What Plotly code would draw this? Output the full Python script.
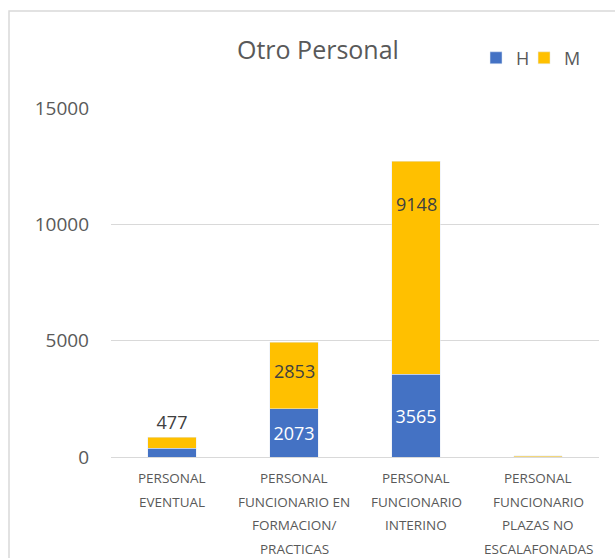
import plotly.graph_objects as go

categories = [
    "PERSONAL EVENTUAL",
    "PERSONAL FUNCIONARIO EN FORMACION/ PRACTICAS",
    "PERSONAL FUNCIONARIO INTERINO",
    "PERSONAL FUNCIONARIO PLAZAS NO ESCALAFONADAS",
]
category_lines = [
    ["PERSONAL", "EVENTUAL"],
    ["PERSONAL", "FUNCIONARIO EN", "FORMACION/", "PRACTICAS"],
    ["PERSONAL", "FUNCIONARIO", "INTERINO"],
    ["PERSONAL", "FUNCIONARIO", "PLAZAS NO", "ESCALAFONADAS"],
]
h_values = [370, 2073, 3565, 10]
m_values = [477, 2853, 9148, 40]
h_labels = ["", "2073", "3565", ""]
m_labels = ["477", "2853", "9148", ""]
# where each M label sits inside its segment (fraction of the segment), None = above bar
m_label_frac = [None, 0.57, 0.80, None]
y_ticks = [0, 5000, 10000, 15000]

FONT = "Open Sans, Liberation Sans, sans-serif"
GRAY = "#595959"

fig = go.Figure()
fig.add_trace(go.Bar(
    name="H", x=categories, y=h_values, marker_color="#4472C4",
    text=h_labels, textposition="inside", insidetextanchor="middle",
    textfont=dict(color="white", size=18, family=FONT),
    hoverinfo="x+y", legend="legend",
))
fig.add_trace(go.Bar(
    name="M", x=categories, y=m_values, marker_color="#FFC000",
    text=[t if f is None else "" for t, f in zip(m_labels, m_label_frac)],
    textposition="outside",
    textfont=dict(color="#404040", size=18, family=FONT),
    hoverinfo="x+y", cliponaxis=False, legend="legend2",
))
for cat, h, m, t, f in zip(categories, h_values, m_values, m_labels, m_label_frac):
    if f is not None and t:
        fig.add_annotation(x=cat, y=h + m * f, xref="x", yref="y", text=t,
                           showarrow=False, xanchor="center", yanchor="middle",
                           font=dict(size=18, color="#404040", family=FONT))

legend_common = dict(orientation="h", xanchor="left", yanchor="middle", y=1.143,
                     font=dict(size=18, color=GRAY), itemwidth=30,
                     bgcolor="rgba(0,0,0,0)")
fig.update_layout(
    barmode="stack",
    bargap=0.6,
    width=615, height=558,
    margin=dict(l=111, r=16, t=108, b=101, autoexpand=False),
    paper_bgcolor="white", plot_bgcolor="white",
    font=dict(family=FONT, color=GRAY),
    title=dict(text="Otro Personal", x=0.517, xanchor="center", y=0.91, yanchor="middle",
               font=dict(size=25, color=GRAY, family=FONT)),
    legend=dict(x=0.748, **legend_common),
    legend2=dict(x=0.8464, **legend_common),
    uniformtext=dict(minsize=18, mode="show"),
    showlegend=True,
)
fig.update_yaxes(
    range=[0, 15000], tickvals=y_ticks, ticktext=[str(v) for v in y_ticks],
    showgrid=True, gridcolor="#D9D9D9", gridwidth=1,
    zeroline=False, showline=False, automargin=False,
    tickfont=dict(size=19, color=GRAY), ticks="", ticklabelstandoff=21,
)
fig.update_xaxes(
    showline=True, linecolor="#D9D9D9", linewidth=1, automargin=False,
    showticklabels=False, ticks="",
)
offsets = [-21, -44.5, -68, -91.5]
for cat, lines in zip(categories, category_lines):
    for i, line in enumerate(lines):
        fig.add_annotation(x=cat, y=0, xref="x", yref="paper", text=line,
                           showarrow=False, yanchor="middle", xanchor="center",
                           yshift=offsets[i], font=dict(size=13.5, color=GRAY, family=FONT))
fig.add_shape(type="rect", xref="paper", yref="paper",
              x0=-0.209, x1=1.2, y0=-0.5, y1=1.278,
              line=dict(color="#D9D9D9", width=1.5), fillcolor="rgba(0,0,0,0)", layer="below")

fig.write_html("out.html", config={"displayModeBar": False},
               post_script="document.body.style.margin='0';document.body.style.overflow='hidden';")
